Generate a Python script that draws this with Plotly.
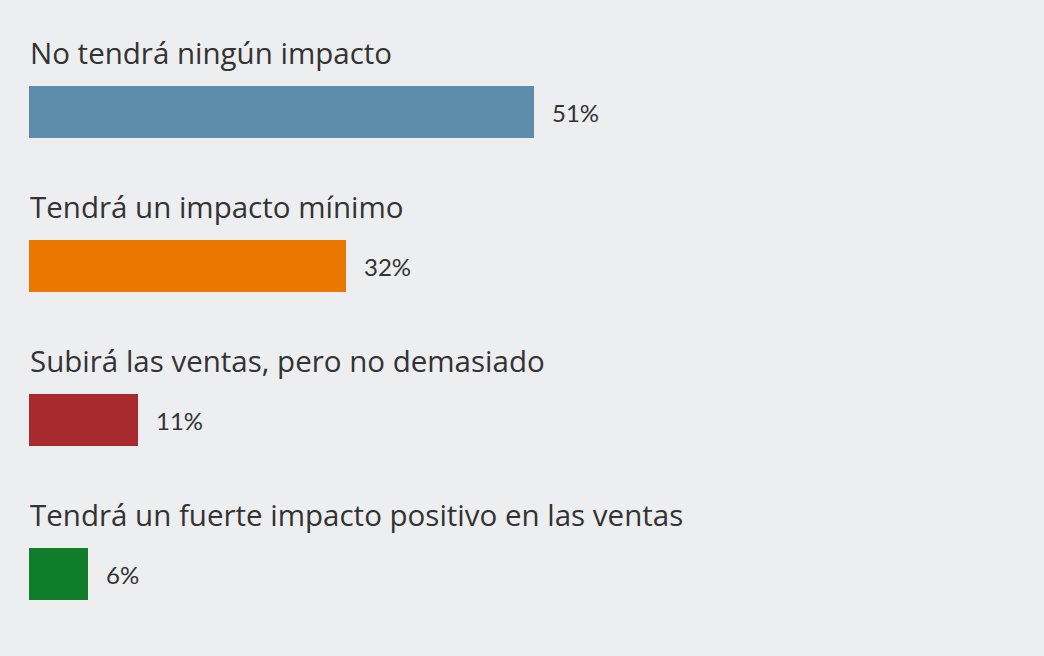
import plotly.graph_objects as go

categories = [
    "No tendrá ningún impacto",
    "Tendrá un impacto mínimo",
    "Subirá las ventas, pero no demasiado",
    "Tendrá un fuerte impacto positivo en las ventas",
]
values = [51, 32, 11, 6]
value_labels = ["51%", "32%", "11%", "6%"]
colors = ["#5E8CAB", "#EC7700", "#A8292E", "#0F7D2A"]

W, H = 1044, 656
unit = 154.0
first_center = 112.0
y_top = -first_center / unit
y_bot = (H - first_center) / unit

ypos = list(range(len(categories)))

fig = go.Figure()
fig.add_trace(go.Bar(
    x=values, y=ypos, orientation="h",
    marker=dict(color=colors, line=dict(width=0)),
    width=52 / unit,
    hoverinfo="skip",
))

label_font = "'Open Sans', sans-serif"
value_font = "Lato, 'Open Sans', sans-serif"
for i, (cat, v, lab) in enumerate(zip(categories, values, value_labels)):
    fig.add_annotation(
        x=0, y=i - 59 / unit, xref="x", yref="y",
        text=cat, showarrow=False, xanchor="left", yanchor="middle",
        font=dict(family=label_font, size=29.5, color="#333333"),
        xshift=-1, yshift=1,
    )
    fig.add_annotation(
        x=v, y=i, xref="x", yref="y",
        text=lab, showarrow=False, xanchor="left", yanchor="middle",
        font=dict(family=value_font, size=24, color="#333333"),
        xshift=16, yshift=0,
    )

fig.update_layout(
    width=W, height=H,
    margin=dict(l=29, r=25, t=0, b=0),
    paper_bgcolor="#EDEEF0", plot_bgcolor="#EDEEF0",
    showlegend=False,
    xaxis=dict(range=[0, 100], visible=False, fixedrange=True),
    yaxis=dict(range=[y_bot, y_top], visible=False, fixedrange=True),
    bargap=0,
)

fig.write_html("out.html")
